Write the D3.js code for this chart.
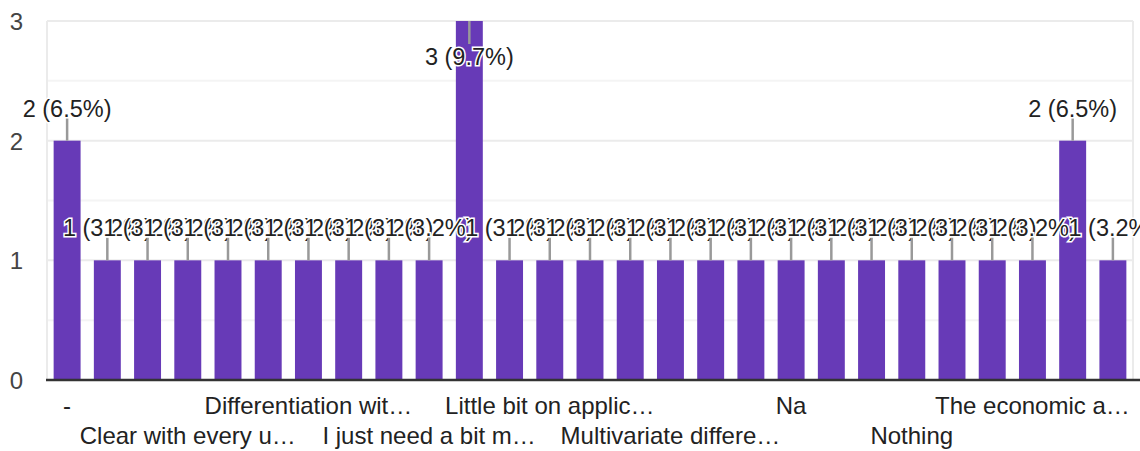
<!DOCTYPE html>
<html>
<head>
<meta charset="utf-8">
<script src="https://cdn.jsdelivr.net/npm/d3@7"></script>
<style>
  body { margin: 0; background: #fff; }
  text { font-family: "Liberation Sans", Arial, sans-serif; }
</style>
</head>
<body>
<div id="chart-area"></div>
<script>
// responses, sorted like the form summary does (alphabetical)
var categories = [
  "-", "All good", "Calculus", "Clear with every u…", "Complex numbers",
  "Differential equations", "Differentiation wit…", "Everything is clear", "Good",
  "I just need a bit m…", "Integration", "Limits", "Little bit on applic…",
  "Matrices", "More examples", "Multivariate differe…", "My doubts are clear",
  "N/A", "Na", "No", "None", "Nothing", "Nothing as such", "Partial derivatives",
  "The economic a…", "Vector calculus", "Yes"
];
var counts = [2, 1, 1, 1, 1, 1, 1, 1, 1, 1, 3, 1, 1, 1, 1, 1, 1, 1, 1, 1, 1, 1, 1, 1, 1, 2, 1];
var totalResponses = 31;
var yTicks = [0, 1, 2, 3];
var yHalfTicks = [0.5, 1.5, 2.5];
// only every third category label gets room on the axis
var shownLabelIndex = [0, 3, 6, 9, 12, 15, 18, 21, 24];

var W = 1140, H = 451;
var plotLeft = 47, plotRight = 1133, plotTop = 21, plotBottom = 380;

var svg = d3.select("#chart-area").append("svg")
  .attr("width", W)
  .attr("height", H);

var x = d3.scaleBand()
  .domain(categories)
  .range([plotLeft, plotRight])
  .paddingInner(0.33)
  .paddingOuter(0.165);

var y = d3.scaleLinear()
  .domain([0, 3])
  .range([plotBottom, plotTop]);

// grid
svg.selectAll("line.minor").data(yHalfTicks).enter()
  .append("line")
  .attr("class", "minor")
  .attr("x1", plotLeft).attr("x2", plotRight)
  .attr("y1", (d) => y(d)).attr("y2", (d) => y(d))
  .attr("stroke", "#f4f4f4")
  .attr("stroke-width", 2);

svg.selectAll("line.major").data(yTicks.filter((d) => d > 0)).enter()
  .append("line")
  .attr("class", "major")
  .attr("x1", plotLeft).attr("x2", plotRight)
  .attr("y1", (d) => y(d)).attr("y2", (d) => y(d))
  .attr("stroke", "#ebebeb")
  .attr("stroke-width", 2);

svg.append("line")
  .attr("x1", plotLeft).attr("x2", plotLeft)
  .attr("y1", plotTop).attr("y2", plotBottom)
  .attr("stroke", "#ebebeb").attr("stroke-width", 2);
svg.append("line")
  .attr("x1", plotRight).attr("x2", plotRight)
  .attr("y1", plotTop).attr("y2", plotBottom)
  .attr("stroke", "#ebebeb").attr("stroke-width", 2);

// y tick labels
svg.selectAll("text.ytick").data(yTicks).enter()
  .append("text")
  .attr("class", "ytick")
  .attr("x", 23)
  .attr("y", (d) => y(d) + 9)
  .attr("text-anchor", "end")
  .attr("font-size", "24px")
  .attr("fill", "#444")
  .text((d) => d);

// bars
svg.selectAll("rect").data(categories).enter()
  .append("rect")
  .attr("x", (d) => x(d))
  .attr("y", (d, i) => y(counts[i]))
  .attr("width", x.bandwidth())
  .attr("height", (d, i) => plotBottom - y(counts[i]))
  .attr("fill", "#673ab7");

// baseline
svg.append("line")
  .attr("x1", 46).attr("x2", W)
  .attr("y1", plotBottom).attr("y2", plotBottom)
  .attr("stroke", "#333")
  .attr("stroke-width", 2.5);

// annotations: stem + "n (p%)" label
var fmt = d3.format(".1f");
var ann = svg.selectAll("g.ann").data(categories).enter()
  .append("g").attr("class", "ann");

ann.each(function (d, i) {
  var g = d3.select(this);
  var cx = x(d) + x.bandwidth() / 2;
  var barTop = y(counts[i]);
  var inside = barTop - 25 - 17 < 0;
  var s1 = inside ? barTop : barTop - 23;
  var s2 = inside ? barTop + 23 : barTop;
  var base = inside ? barTop + 44 : barTop - 24;
  g.append("line")
    .attr("x1", cx).attr("x2", cx)
    .attr("y1", s1).attr("y2", s2)
    .attr("stroke", "#999")
    .attr("stroke-width", 2.5);
  g.append("text")
    .attr("x", cx)
    .attr("y", base)
    .attr("text-anchor", "middle")
    .attr("font-size", "23.5px")
    .attr("fill", "#222")
    .attr("stroke", "#fff")
    .attr("stroke-width", 3)
    .attr("paint-order", "stroke")
    .text(counts[i] + " (" + fmt(counts[i] / totalResponses * 100) + "%)");
});

// category labels, staggered on two rows
svg.selectAll("text.xlab").data(shownLabelIndex).enter()
  .append("text")
  .attr("class", "xlab")
  .attr("x", (i) => x(categories[i]) + x.bandwidth() / 2)
  .attr("y", (i, k) => k % 2 === 0 ? 414 : 444)
  .attr("text-anchor", "middle")
  .attr("font-size", "24px")
  .attr("fill", "#222")
  .text((i) => categories[i]);
</script>
</body>
</html>
